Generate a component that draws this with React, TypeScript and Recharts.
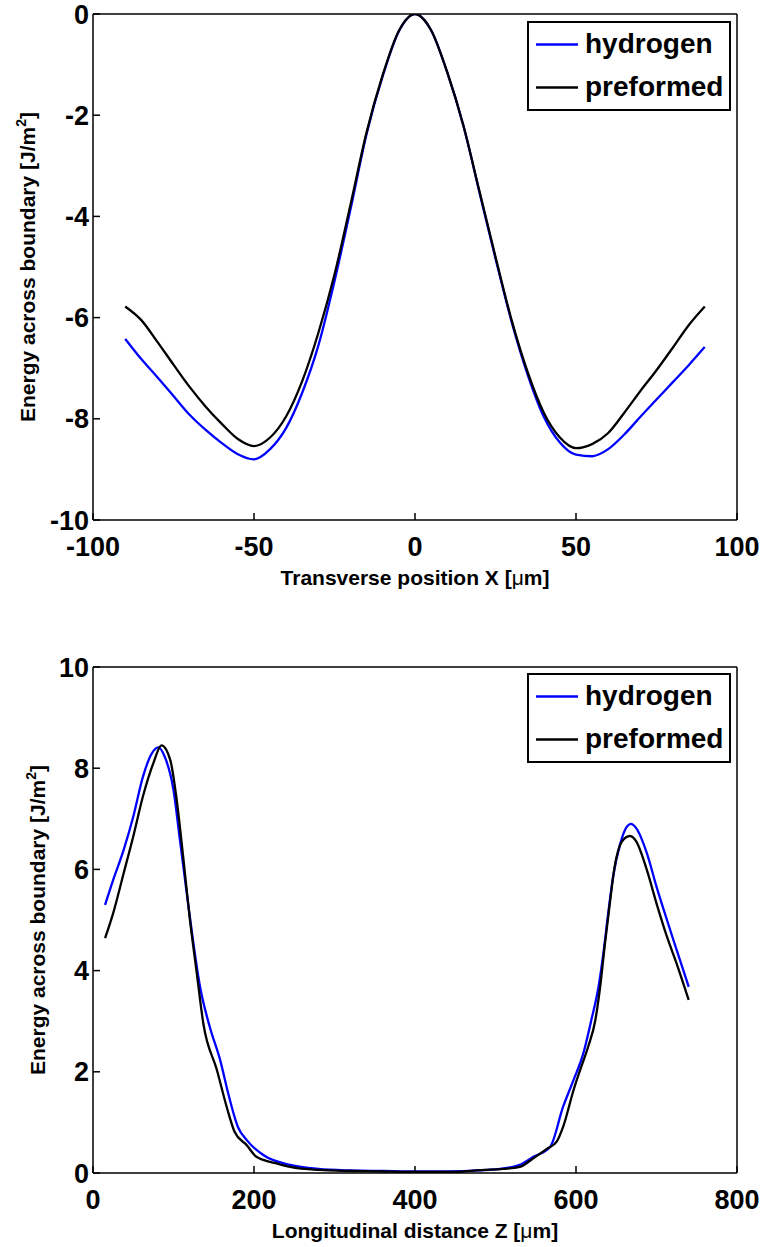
import React from 'react';
import { LineChart, Line, XAxis, YAxis, Legend } from 'recharts';

const FONT = '"Liberation Sans", Arial, Helvetica, sans-serif';

// top panel: transverse profile
const topX = [
  -90, -85, -80, -75, -70, -65, -60, -55, -50, -45, -40, -35, -30, -25, -20, -15, -10, -5, 0,
  5, 10, 15, 20, 25, 30, 35, 40, 45, 50, 55, 60, 65, 70, 75, 80, 85, 90,
];
const topHydrogen = [
  -6.42, -6.82, -7.18, -7.55, -7.92, -8.22, -8.48, -8.7, -8.8, -8.6, -8.18, -7.48, -6.55, -5.28,
  -3.85, -2.36, -1.22, -0.34, 0, -0.32, -1.15, -2.2, -3.52, -4.83, -6.08, -7.13, -7.96, -8.47,
  -8.71, -8.74, -8.6, -8.31, -7.96, -7.62, -7.28, -6.94, -6.58,
];
const topPreformed = [
  -5.78, -6.05, -6.48, -6.93, -7.37, -7.76, -8.1, -8.4, -8.54, -8.37, -7.95, -7.25, -6.3, -5.15,
  -3.76, -2.33, -1.2, -0.33, 0, -0.32, -1.15, -2.2, -3.5, -4.8, -6.05, -7.08, -7.88, -8.37,
  -8.58, -8.5, -8.28, -7.88, -7.45, -7.04, -6.6, -6.15, -5.78,
];
const topXTicks = [-100, -50, 0, 50, 100];
const topYTicks = [-10, -8, -6, -4, -2, 0];

// bottom panel: longitudinal profile
const botHydrogenZ = [
  15, 25, 38, 50, 62, 73, 81, 89, 100, 108, 116, 123, 133, 145, 158, 168, 180, 191, 212, 245,
  280, 320, 360, 400, 440, 480, 510, 530, 547, 568, 584, 597, 609, 619, 628, 634, 640, 646, 655,
  663, 668, 675, 688, 700, 713, 725, 740,
];
const botHydrogenE = [
  5.3, 5.79, 6.38, 7.04, 7.83, 8.29, 8.41, 8.23, 7.57, 6.58, 5.59, 4.74, 3.68, 2.89, 2.23, 1.57,
  0.91, 0.65, 0.35, 0.16, 0.08, 0.05, 0.04, 0.03, 0.03, 0.05, 0.09, 0.16, 0.32, 0.52, 1.31, 1.84,
  2.36, 3.02, 3.68, 4.34, 5.13, 5.85, 6.51, 6.84, 6.9, 6.81, 6.32, 5.66, 5.0, 4.41, 3.68,
];
const botPreformedZ = [
  15, 25, 38, 50, 62, 75, 85, 96, 104, 112, 120, 129, 137, 154, 166, 176, 191, 203, 228, 245,
  280, 320, 360, 400, 440, 486, 510, 530, 547, 564, 576, 584, 597, 605, 615, 624, 630, 636, 642,
  648, 657, 667, 675, 688, 700, 713, 725, 740,
];
const botPreformedE = [
  4.64, 5.13, 5.92, 6.65, 7.44, 8.1, 8.45, 8.16, 7.37, 6.25, 5.06, 3.94, 2.96, 2.03, 1.31, 0.81,
  0.55, 0.32, 0.19, 0.12, 0.06, 0.04, 0.03, 0.02, 0.02, 0.06, 0.08, 0.12, 0.29, 0.48, 0.62, 0.91,
  1.64, 2.03, 2.49, 3.02, 3.68, 4.54, 5.33, 6.05, 6.55, 6.66, 6.55, 5.99, 5.33, 4.67, 4.14, 3.42,
];
const botXTicks = [0, 200, 400, 600, 800];
const botYTicks = [0, 2, 4, 6, 8, 10];

const topRows = topX.map((x, i) => ({ x, hydrogen: topHydrogen[i], preformed: topPreformed[i] }));
const botHydrogen = botHydrogenZ.map((x, i) => ({ x, e: botHydrogenE[i] }));
const botPreformed = botPreformedZ.map((x, i) => ({ x, e: botPreformedE[i] }));

const tickStyle = { fontSize: 27, fontWeight: 'bold', fill: '#000', fontFamily: FONT };
const axisLineStyle = { stroke: '#000', strokeWidth: 1.5 };
const tickLineStyle = { stroke: '#000', strokeWidth: 1.5 };

const yLabel = (bx: number) => (props: any) => {
  const vb = props.viewBox || {};
  const cy = vb.y + vb.height / 2;
  return (
    <text
      x={bx}
      y={cy}
      transform={`rotate(-90, ${bx}, ${cy})`}
      textAnchor="middle"
      fontFamily={FONT}
      fontWeight="bold"
      fontSize={21}
      fill="#000"
    >
      Energy across boundary [J/m
      <tspan dy={-9} fontSize={14}>2</tspan>
      <tspan dy={9}>]</tspan>
    </text>
  );
};

const xLabel = (before: string, after: string) => (props: any) => {
  const vb = props.viewBox || {};
  return (
    <text
      x={vb.x + vb.width / 2}
      y={vb.y + 65}
      textAnchor="middle"
      fontFamily={FONT}
      fontWeight="bold"
      fontSize={21}
      fill="#000"
    >
      {before}
      <tspan fontWeight="normal">μ</tspan>
      {after}
    </text>
  );
};

const renderLegend = (props: any) => (
  <div
    style={{
      border: '2px solid #000',
      background: '#fff',
      width: 200,
      height: 86,
      fontFamily: FONT,
      fontWeight: 'bold',
      fontSize: 28,
      color: '#000',
    }}
  >
    {(props.payload || [])
      .filter((p: any) => p.type !== 'none')
      .map((p: any) => (
        <div key={p.value} style={{ display: 'flex', alignItems: 'center', height: 43 }}>
          <svg width={51} height={43}>
            <line x1={7} x2={49} y1={21.5} y2={21.5} stroke={p.color} strokeWidth={2.5} />
          </svg>
          <span style={{ marginLeft: 5, lineHeight: 1.15 }}>{p.value}</span>
        </div>
      ))}
  </div>
);

// mirrored top / right axes so the plot is boxed like the original
const boxAxes = (xDomain: number[], yDomain: number[], xTicks: number[], yTicks: number[]) => [
  <XAxis
    key="xt"
    xAxisId="top"
    orientation="top"
    type="number"
    domain={xDomain}
    ticks={xTicks}
    interval={0}
    allowDataOverflow
    height={1}
    tick={false}
    tickSize={-7}
    axisLine={axisLineStyle}
    tickLine={tickLineStyle}
  />,
  <YAxis
    key="yr"
    yAxisId="right"
    orientation="right"
    type="number"
    domain={yDomain}
    ticks={yTicks}
    interval={0}
    allowDataOverflow
    width={1}
    tick={false}
    tickSize={-7}
    axisLine={axisLineStyle}
    tickLine={tickLineStyle}
  />,
];

const App = () => {
  return (
    <div style={{ position: 'absolute', left: 0, top: 0, width: 768, height: 1247, background: '#fff' }}>
      <div style={{ position: 'absolute', left: 0, top: 0 }}>
        <LineChart width={768} height={610} data={topRows} margin={{ top: 13, right: 30, bottom: 0, left: 0 }}>
          <XAxis
            dataKey="x"
            type="number"
            domain={[-100, 100]}
            ticks={topXTicks}
            interval={0}
            allowDataOverflow
            height={90}
            tick={tickStyle}
            tickSize={-7}
            tickMargin={24}
            axisLine={axisLineStyle}
            tickLine={tickLineStyle}
            label={xLabel('Transverse position X [', 'm]')}
          />
          <YAxis
            type="number"
            domain={[-10, 0]}
            ticks={topYTicks}
            interval={0}
            allowDataOverflow
            width={93}
            tick={tickStyle}
            tickSize={-7}
            tickMargin={11}
            axisLine={axisLineStyle}
            tickLine={tickLineStyle}
            label={yLabel(35)}
          />
          {boxAxes([-100, 100], [-10, 0], topXTicks, topYTicks)}
          <Line
            xAxisId="top"
            yAxisId="right"
            dataKey="preformed"
            stroke="none"
            legendType="none"
            dot={false}
            activeDot={false}
            isAnimationActive={false}
          />
          <Line
            name="hydrogen"
            dataKey="hydrogen"
            type="monotone"
            stroke="#0000ff"
            strokeWidth={2.3}
            dot={false}
            isAnimationActive={false}
          />
          <Line
            name="preformed"
            dataKey="preformed"
            type="monotone"
            stroke="#000000"
            strokeWidth={2.3}
            dot={false}
            isAnimationActive={false}
          />
          <Legend
            layout="vertical"
            align="center"
            verticalAlign="middle"
            wrapperStyle={{ top: 21, left: 527, right: 'auto', bottom: 'auto', width: 'auto' }}
            content={renderLegend}
          />
        </LineChart>
      </div>
      <div style={{ position: 'absolute', left: 0, top: 600 }}>
        <LineChart width={768} height={647} margin={{ top: 66, right: 30, bottom: 0, left: 0 }}>
          <XAxis
            dataKey="x"
            type="number"
            domain={[0, 800]}
            ticks={botXTicks}
            interval={0}
            allowDataOverflow
            height={74}
            tick={tickStyle}
            tickSize={-7}
            tickMargin={24}
            axisLine={axisLineStyle}
            tickLine={tickLineStyle}
            label={xLabel('Longitudinal distance Z [', 'm]')}
          />
          <YAxis
            type="number"
            domain={[0, 10]}
            ticks={botYTicks}
            interval={0}
            allowDataOverflow
            width={93}
            tick={tickStyle}
            tickSize={-7}
            tickMargin={11}
            axisLine={axisLineStyle}
            tickLine={tickLineStyle}
            label={yLabel(45)}
          />
          {boxAxes([0, 800], [0, 10], botXTicks, botYTicks)}
          <Line
            xAxisId="top"
            yAxisId="right"
            data={botPreformed}
            dataKey="e"
            stroke="none"
            legendType="none"
            dot={false}
            activeDot={false}
            isAnimationActive={false}
          />
          <Line
            name="hydrogen"
            data={botHydrogen}
            dataKey="e"
            type="monotone"
            stroke="#0000ff"
            strokeWidth={2.3}
            dot={false}
            isAnimationActive={false}
          />
          <Line
            name="preformed"
            data={botPreformed}
            dataKey="e"
            type="monotone"
            stroke="#000000"
            strokeWidth={2.3}
            dot={false}
            isAnimationActive={false}
          />
          <Legend
            layout="vertical"
            align="center"
            verticalAlign="middle"
            wrapperStyle={{ top: 73, left: 527, right: 'auto', bottom: 'auto', width: 'auto' }}
            content={renderLegend}
          />
        </LineChart>
      </div>
    </div>
  );
};

export default App;
